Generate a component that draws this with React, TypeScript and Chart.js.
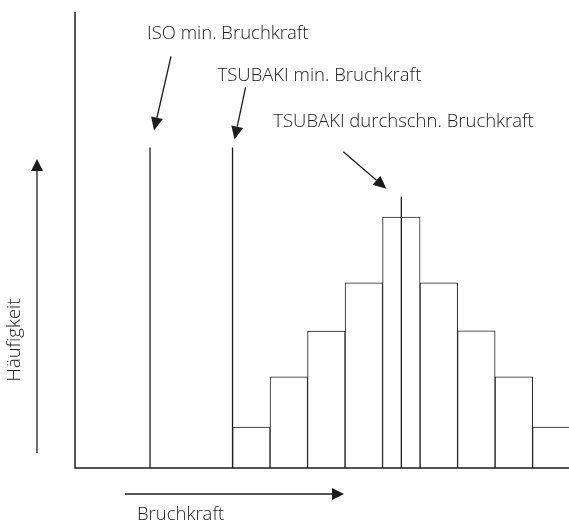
import React, { useEffect, useRef } from "react";
import { Chart, registerables } from "chart.js";

Chart.register(...registerables);

// Histogram bins (Bruchkraft, arbitrary units) and relative frequencies
const binStarts = [100, 110, 120, 130, 140, 150, 160, 170, 180];
const binWidth = 10;
const frequencies = [9, 20, 30, 40.6, 55, 40.6, 30.1, 20, 9];

// Marker lines: [x position, height]
const isoMin = { x: 78, h: 70.3, label: "ISO min. Bruchkraft" };
const tsubakiMin = { x: 100, h: 70.3, label: "TSUBAKI min. Bruchkraft" };
const tsubakiMean = { x: 145, h: 59.5, label: "TSUBAKI durchschn. Bruchkraft" };

const xAxisTitle = "Bruchkraft";
const yAxisTitle = "Häufigkeit";

const INK = "#1c1c1c";
const FONT = "300 18.5px 'Open Sans', Lato, sans-serif";

function arrow(ctx: CanvasRenderingContext2D, x1: number, y1: number, x2: number, y2: number, head = 13, half = 6) {
  const dx = x2 - x1;
  const dy = y2 - y1;
  const len = Math.hypot(dx, dy);
  const ux = dx / len;
  const uy = dy / len;
  const bx = x2 - ux * head;
  const by = y2 - uy * head;
  ctx.beginPath();
  ctx.moveTo(x1, y1);
  ctx.lineTo(bx, by);
  ctx.stroke();
  ctx.beginPath();
  ctx.moveTo(x2, y2);
  ctx.lineTo(bx - uy * half, by + ux * half);
  ctx.lineTo(bx + uy * half, by - ux * half);
  ctx.closePath();
  ctx.fill();
}

const decorPlugin = {
  id: "decor",
  afterDraw(chart: any) {
    const { ctx, chartArea } = chart;
    const xs = chart.scales.x;
    const ys = chart.scales.y;
    ctx.save();
    ctx.strokeStyle = INK;
    ctx.fillStyle = INK;
    ctx.lineWidth = 1.5;
    // axes
    ctx.beginPath();
    ctx.moveTo(chartArea.left, chartArea.top);
    ctx.lineTo(chartArea.left, chartArea.bottom);
    ctx.lineTo(chartArea.right, chartArea.bottom);
    ctx.stroke();

    ctx.lineWidth = 1.3;
    ctx.font = FONT;
    ctx.textBaseline = "middle";
    ctx.textAlign = "left";

    // ISO min
    const isoX = xs.getPixelForValue(isoMin.x);
    const isoTop = ys.getPixelForValue(isoMin.h);
    ctx.fillText(isoMin.label, isoX - 3, isoTop - 114);
    arrow(ctx, isoX + 21, isoTop - 91, isoX + 4, isoTop - 17);

    // TSUBAKI min
    const tmX = xs.getPixelForValue(tsubakiMin.x);
    const tmTop = ys.getPixelForValue(tsubakiMin.h);
    ctx.fillText(tsubakiMin.label, tmX - 15, tmTop - 72);
    arrow(ctx, tmX + 13, tmTop - 60, tmX + 2, tmTop - 8);

    // TSUBAKI mean
    const mX = xs.getPixelForValue(tsubakiMean.x);
    const mTop = ys.getPixelForValue(tsubakiMean.h);
    ctx.fillText(tsubakiMean.label, mX - 128, mTop - 75);
    arrow(ctx, mX - 58, mTop - 45, mX - 15, mTop - 8);

    // x axis title + arrow
    ctx.lineWidth = 1.3;
    arrow(ctx, chartArea.left + 50, chartArea.bottom + 26, chartArea.left + 269, chartArea.bottom + 26, 12, 6);
    ctx.fillText(xAxisTitle, chartArea.left + 62, chartArea.bottom + 47);

    // y axis title + arrow
    arrow(ctx, chartArea.left - 38, chartArea.bottom - 15, chartArea.left - 38, chartArea.top + 147, 12, 6);
    ctx.save();
    ctx.translate(chartArea.left - 60, chartArea.top + 328);
    ctx.rotate(-Math.PI / 2);
    ctx.textAlign = "center";
    ctx.fillText(yAxisTitle, 0, 0);
    ctx.restore();

    ctx.restore();
  },
};

export default function App() {
  const ref = useRef<HTMLCanvasElement | null>(null);
  useEffect(() => {
    document.body.style.margin = "0";
    const canvas = ref.current!;
    const markerDataset = (m: { x: number; h: number }) => ({
      type: "line" as const,
      data: [
        { x: m.x, y: 0 },
        { x: m.x, y: m.h },
      ],
      borderColor: INK,
      borderWidth: 1.3,
      pointRadius: 0,
      fill: false,
      order: 1,
    });
    const chart = new Chart(canvas, {
      type: "bar",
      data: {
        datasets: [
          {
            type: "bar",
            data: binStarts.map((s, i) => ({ x: s + binWidth / 2, y: frequencies[i] })),
            backgroundColor: "#fff",
            borderColor: INK,
            borderWidth: 1,
            barPercentage: 1,
            categoryPercentage: 1,
            order: 2,
          } as any,
          markerDataset(isoMin),
          markerDataset(tsubakiMin),
          markerDataset(tsubakiMean),
        ],
      },
      options: {
        animation: false,
        responsive: true,
        maintainAspectRatio: false,
        devicePixelRatio: 1,
        layout: { padding: { left: 75, top: 12, right: 0, bottom: 55 } },
        plugins: { legend: { display: false }, tooltip: { enabled: false } },
        scales: {
          x: { type: "linear", min: 58, max: 189.7, display: false, offset: false },
          y: { min: 0, max: 100, display: false },
        },
      },
      plugins: [decorPlugin],
    });
    return () => chart.destroy();
  }, []);
  return (
    <div style={{ position: "fixed", left: 0, top: 0, width: 569, height: 523, background: "#fff" }}>
      <canvas ref={ref} />
    </div>
  );
}
